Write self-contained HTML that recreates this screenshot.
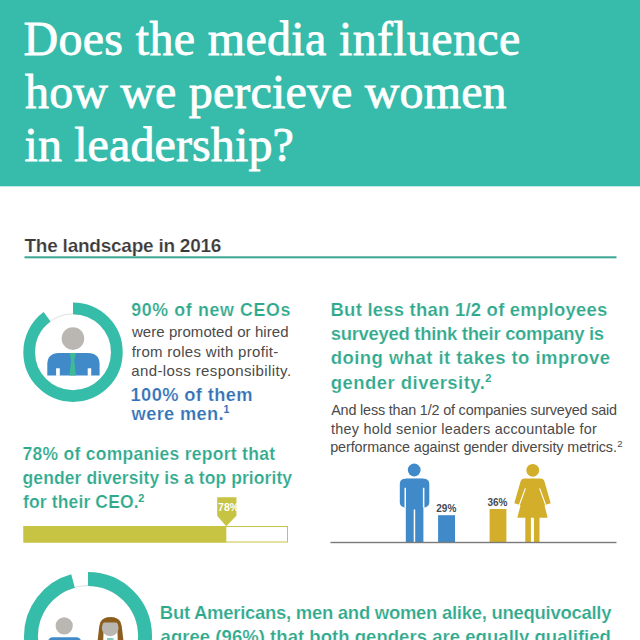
<!DOCTYPE html>
<html><head><meta charset="utf-8"><style>
html,body{margin:0;padding:0;background:#fff;}
body{width:640px;height:640px;position:relative;overflow:hidden;}
.t{position:absolute;white-space:nowrap;line-height:1;}
.sr{font-family:'Liberation Serif',serif;font-weight:400;-webkit-text-stroke:0.8px #fff;}
.sn{font-family:'Liberation Sans',sans-serif;font-weight:400;}
.sp{font-family:'Liberation Sans',sans-serif;font-weight:700;}
.sb{font-family:'Liberation Sans',sans-serif;font-weight:700;-webkit-text-stroke:0.2px #fff;}
</style></head><body>
<svg width="640" height="640" viewBox="0 0 640 640" style="position:absolute;left:0;top:0">
<defs><clipPath id="bang"><rect x="90" y="610" width="40" height="12.6"/></clipPath></defs>
<rect x="0" y="0" width="640" height="186.3" fill="#37bbaa"/>
<rect x="24.5" y="256.3" width="592" height="2" fill="#3ca595"/>
<circle cx="73.0" cy="352.2" r="38.40" fill="none" stroke="#d5d8d7" stroke-width="0.8"/><circle cx="73.0" cy="352.2" r="43.85" fill="none" stroke="#36bdaa" stroke-width="11.70" stroke-dasharray="247.41 275.52" transform="rotate(-90 73.0 352.2)"/>
<circle cx="72.95" cy="338.6" r="11.3" fill="#bab7b2"/>
<path d="M47.3,375.6 L47.3,364.5 Q47.3,352.9 59,352.9 L88,352.9 Q99.6,352.9 99.6,364.5 L99.6,375.6 Z" fill="#408ac9"/>
<rect x="56.1" y="368.3" width="3.7" height="7.5" fill="#fff"/>
<rect x="87.7" y="368.3" width="3.5" height="7.5" fill="#fff"/>
<path d="M69.6,352.9 L75.8,352.9 L74.3,360.5 L75.9,375.6 L69.5,375.6 L71.1,360.5 Z" fill="#3dbb96"/>
<!-- olive bar -->
<rect x="24" y="526.5" width="263.5" height="15.5" fill="#fff" stroke="#c6c442" stroke-width="1"/>
<rect x="23.5" y="526" width="202.8" height="16.5" fill="#c6c442"/>
<path d="M217.2,497.2 L236.4,497.2 L236.4,515.8 L226.2,526.2 L217.2,515.8 Z" fill="#c6c442"/>
<!-- man -->
<circle cx="414.2" cy="470" r="6.4" fill="#408ac9"/>
<rect x="399.8" y="478.7" width="29.5" height="28.8" rx="5" fill="#408ac9"/>
<rect x="405.8" y="478.6" width="17.6" height="64" fill="#408ac9"/>
<rect x="404.5" y="487.8" width="1.5" height="19.8" fill="#fff"/>
<rect x="422.9" y="487.8" width="1.5" height="19.8" fill="#fff"/>
<rect x="413.7" y="509.5" width="1.5" height="33" fill="#fff"/>
<rect x="438.1" y="515.2" width="16.9" height="27.2" fill="#408ac9"/>
<!-- woman -->
<circle cx="532.75" cy="470.3" r="6.4" fill="#d2ae2a"/>
<path d="M524,478.4 L541,478.4 Q543.6,478.4 544.4,481.2 L550.7,503.2 L546.5,504.6 L544.5,505.5 L547.7,517.8 L517.3,517.8 L520.5,505.5 L518.5,504.6 L514.3,503.2 L520.6,481.2 Q521.4,478.4 524,478.4 Z" fill="#d2ae2a"/>
<path d="M525.4,488.4 L519.3,505 M539.6,488.4 L545.7,505" stroke="#fff" stroke-width="1.1"/>
<rect x="525.3" y="517" width="5.6" height="25" fill="#d2ae2a"/>
<rect x="533.9" y="517" width="5.6" height="25" fill="#d2ae2a"/>
<rect x="489.6" y="509" width="16.8" height="33.4" fill="#d2ae2a"/>
<rect x="330.5" y="541.8" width="286" height="1.4" fill="#7a7a7a"/>
<!-- donut 2 -->
<circle cx="88" cy="636" r="50.50" fill="none" stroke="#d5d8d7" stroke-width="0.8"/><circle cx="88" cy="636" r="57.05" fill="none" stroke="#36bdaa" stroke-width="13.90" stroke-dasharray="342.68 358.46" transform="rotate(-90 88 636)"/>
<circle cx="64.2" cy="625.8" r="8.6" fill="#bab7b2"/>
<rect x="47.8" y="637.2" width="33.6" height="12" rx="5" fill="#408ac9"/>
<path d="M97.6,641 L99.3,626 Q100.5,617.3 110.5,617.3 Q120.5,617.3 121.7,626 L123.5,641 Z" fill="#8c5e1e"/>
<path d="M103.2,641 L103.6,631 L117.4,631 L117.8,641 Z" fill="#fff"/>
<circle cx="110.2" cy="627.8" r="8.4" fill="#bab7b2"/>
<path d="M97.6,641 L99.3,626 Q100.5,617.3 110.5,617.3 Q120.5,617.3 121.7,626 L123.5,641 Z" fill="#8c5e1e" clip-path="url(#bang)"/>
<rect x="107" y="638" width="6.5" height="3" fill="#7fcdbb"/>
</svg>
<div class="t sr" style="left:23.40px;top:15.45px;font-size:48px;letter-spacing:0.337px;color:#fff">Does the media influence</div>
<div class="t sr" style="left:25.00px;top:68.15px;font-size:48px;letter-spacing:0.157px;color:#fff">how we percieve women</div>
<div class="t sr" style="left:24.50px;top:121.45px;font-size:48px;letter-spacing:0.112px;color:#fff">in leadership?</div>
<div class="t sb" style="left:24.50px;top:236.25px;font-size:19px;letter-spacing:-0.240px;color:#3a3a3a">The landscape in 2016</div>
<div class="t sb" style="left:131.25px;top:301.80px;font-size:17.8px;letter-spacing:0.639px;color:#2fa98c">90% of new CEOs</div>
<div class="t sn" style="left:131.90px;top:324.00px;font-size:15px;letter-spacing:0.076px;color:#4a4a4a">were promoted or hired</div>
<div class="t sn" style="left:131.65px;top:344.00px;font-size:15px;letter-spacing:0.298px;color:#4a4a4a">from roles with profit-</div>
<div class="t sn" style="left:131.15px;top:363.40px;font-size:15px;letter-spacing:0.404px;color:#4a4a4a">and-loss responsibility.</div>
<div class="t sb" style="left:130.55px;top:386.00px;font-size:18.3px;letter-spacing:0.373px;color:#3372b6">100% of them</div>
<div class="t sb" style="left:131.60px;top:405.00px;font-size:18.3px;letter-spacing:0.331px;color:#3372b6">were men.</div>
<div class="t sb" style="left:22.55px;top:446.40px;font-size:17.5px;letter-spacing:0.274px;color:#2fa98c">78% of companies report that</div>
<div class="t sb" style="left:22.55px;top:469.50px;font-size:17.5px;letter-spacing:0.094px;color:#2fa98c">gender diversity is a top priority</div>
<div class="t sb" style="left:23.05px;top:493.60px;font-size:17.5px;letter-spacing:0.135px;color:#2fa98c">for their CEO.</div>
<div class="t sb" style="left:330.55px;top:300.50px;font-size:18.5px;letter-spacing:0.217px;color:#2fa98c">But less than 1/2 of employees</div>
<div class="t sb" style="left:330.75px;top:325.00px;font-size:18.5px;letter-spacing:-0.312px;color:#2fa98c">surveyed think their company is</div>
<div class="t sb" style="left:330.75px;top:349.20px;font-size:18.5px;letter-spacing:0.453px;color:#2fa98c">doing what it takes to improve</div>
<div class="t sb" style="left:330.75px;top:373.50px;font-size:18.5px;letter-spacing:0.459px;color:#2fa98c">gender diversity.</div>
<div class="t sn" style="left:331.20px;top:402.90px;font-size:14.4px;letter-spacing:-0.180px;color:#4a4a4a">And less than 1/2 of companies surveyed said</div>
<div class="t sn" style="left:330.95px;top:422.00px;font-size:14.4px;letter-spacing:0.276px;color:#4a4a4a">they hold senior leaders accountable for</div>
<div class="t sn" style="left:330.20px;top:440.10px;font-size:14.4px;letter-spacing:-0.099px;color:#4a4a4a">performance against gender diversity metrics.</div>
<div class="t sb" style="left:159.85px;top:603.80px;font-size:18.5px;letter-spacing:-0.280px;color:#2fa98c">But Americans, men and women alike, unequivocally</div>
<div class="t sb" style="left:160.60px;top:627.80px;font-size:18.5px;letter-spacing:0.042px;color:#2fa98c">agree (96%) that both genders are equally qualified</div>
<div class="t sp" style="left:223.60px;top:404.41px;font-size:10.5px;color:#3372b6">1</div>
<div class="t sp" style="left:138.20px;top:492.89px;font-size:11px;color:#2fa98c">2</div>
<div class="t sp" style="left:485.30px;top:372.69px;font-size:11px;color:#2fa98c">2</div>
<div class="t sn" style="left:617.30px;top:438.96px;font-size:9.5px;color:#4a4a4a">2</div>
<div class="t sp" style="left:436.29px;top:504.23px;font-size:10px;color:#454a54">29%</div>
<div class="t sp" style="left:487.49px;top:498.03px;font-size:10px;color:#454a54">36%</div>
<div class="t sp" style="left:218.10px;top:502.41px;font-size:10.5px;color:#fff">78%</div>
</body></html>
